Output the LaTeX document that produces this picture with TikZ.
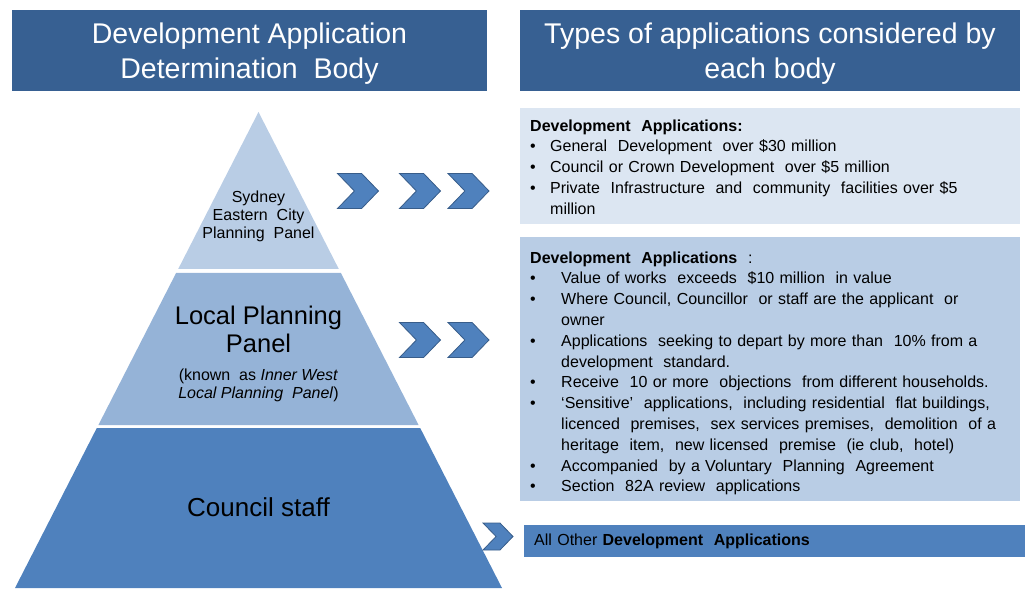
\documentclass[tikz,border=0pt]{standalone}
\usepackage{fontspec}
\setmainfont{Liberation Sans}
\usetikzlibrary{shapes.symbols}
\definecolor{headblue}{HTML}{376092}
\definecolor{paleblue}{HTML}{DCE6F2}
\definecolor{lightblue}{HTML}{B9CDE5}
\definecolor{midblue}{HTML}{95B3D7}
\definecolor{deepblue}{HTML}{4F81BD}
\definecolor{chevline}{HTML}{385D8A}
\newcommand{\bul}[1][20pt]{\makebox[#1][l]{•}}
\newcommand{\cont}[1][20pt]{\hspace*{#1}}
\newcommand{\topgap}[1]{\rule{0pt}{#1}}
\tikzset{
  header/.style={fill=headblue,text=white,align=center,inner sep=0pt,minimum height=81pt,
    font=\fontsize{28.5}{35}\selectfont},
  infobox/.style={anchor=north west,align=left,inner ysep=0pt,inner xsep=10pt,
    font=\fontsize{16}{20.8}\selectfont},
  layertext/.style={align=center,inner sep=0pt},
  chev/.style={signal,signal to=east,signal from=west,signal pointer angle=92,
    fill=deepblue,draw=chevline,line width=0.8pt,inner sep=0pt,
    minimum width=41pt,minimum height=35pt},
}
\begin{document}
\begin{tikzpicture}[x=1pt,y=-1pt]
\useasboundingbox (0,0) rectangle (1032,593);
% headers
\node[header,minimum width=475pt] (bodyhead) at (249.5,50.5) {\topgap{27pt}Development Application\\Determination\ \ Body};
\node[header,minimum width=500pt] (typehead) at (770,50.5) {\topgap{27pt}Types of applications considered by\\each body};
% pyramid layers
\fill[lightblue] (258.5,112) -- (338.8,269) -- (178.2,269) -- cycle;
\fill[midblue] (176.1,273) -- (340.9,273) -- (418.6,425) -- (98.4,425) -- cycle;
\fill[deepblue] (96.8,428) -- (420.2,428) -- (502,588) -- (15,588) -- cycle;
\node[layertext,font=\fontsize{16}{18}\selectfont] (sydney) at (258.5,216) {Sydney\\Eastern\ \ City\\Planning\ \ Panel};
\node[layertext,font=\fontsize{25.5}{28}\selectfont] (local) at (258.5,329) {Local Planning\\Panel};
\node[layertext,font=\fontsize{16}{18}\selectfont] (localnote) at (258.5,385) {(known\ \ as \textit{Inner West}\\\textit{Local Planning\ \ Panel})};
\node[layertext,font=\fontsize{26}{28}\selectfont] (staff) at (258.5,507) {Council staff};
% chevrons
\node[chev] (c1) at (358,191) {};
\node[chev] (c2) at (420,191) {};
\node[chev] (c3) at (468.5,191) {};
\node[chev] (c4) at (420,340) {};
\node[chev] (c5) at (468.5,340) {};
\node[chev,minimum width=30pt,minimum height=27pt] (c6) at (498,536.5) {};
% application boxes
\node[infobox,fill=paleblue,minimum width=500pt,minimum height=116pt,text width=480pt] (sepp) at (520,108)
  {\topgap{13pt}\textbf{Development\ \ Applications:}\\
   \bul General\ \ Development\ \ over \$30 million\\
   \bul Council or Crown Development\ \ over \$5 million\\
   \bul Private\ \ Infrastructure\ \ and\ \ community\ \ facilities over \$5\\
   \cont million};
\node[infobox,fill=lightblue,minimum width=500pt,minimum height=264pt,text width=480pt] (lppbox) at (520,237)
  {\topgap{20pt}\textbf{Development\ \ Applications}\ \ :\\
   \bul[31pt]Value of works\ \ exceeds\ \ \$10 million\ \ in value\\
   \bul[31pt]Where Council, Councillor\ \ or staff are the applicant\ \ or\\
   \cont[31pt]owner\\
   \bul[31pt]Applications\ \ seeking to depart by more than\ \ 10\% from a\\
   \cont[31pt]development\ \ standard.\\
   \bul[31pt]Receive\ \ 10 or more\ \ objections\ \ from different households.\\
   \bul[31pt]‘Sensitive’\ \ applications,\ \ including residential\ \ flat buildings,\\
   \cont[31pt]licenced\ \ premises,\ \ sex services premises,\ \ demolition\ \ of a\\
   \cont[31pt]heritage\ \ item,\ \ new licensed\ \ premise\ \ (ie club,\ \ hotel)\\
   \bul[31pt]Accompanied\ \ by a Voluntary\ \ Planning\ \ Agreement\\
   \bul[31pt]Section\ \ 82A review\ \ applications};
\node[infobox,fill=deepblue,minimum width=501pt,minimum height=32pt,text width=481pt,anchor=north west] (staffbox) at (524,525)
  {All Other \textbf{Development\ \ Applications}};
\end{tikzpicture}
\end{document}
